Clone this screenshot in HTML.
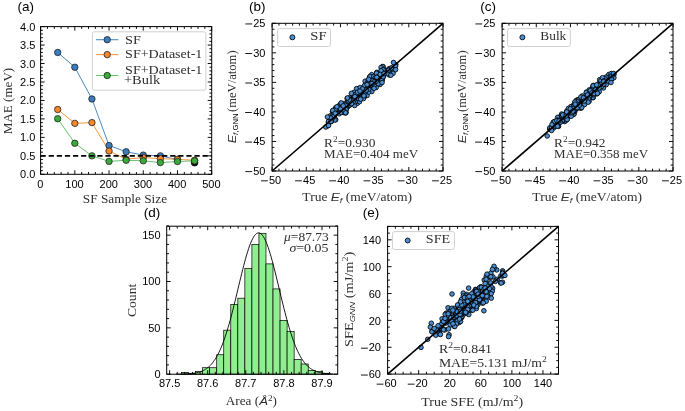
<!DOCTYPE html><html><head><meta charset="utf-8"><style>html,body{margin:0;padding:0;background:#fff;width:685px;height:411px;overflow:hidden}svg{display:block;will-change:transform}</style></head><body><svg width="685" height="411" viewBox="0 0 685 411">
<style>.s{font-family:"Liberation Sans",sans-serif;fill:#000}.r{font-family:"Liberation Serif",serif;fill:#303030}.i{font-family:"Liberation Sans",sans-serif;font-style:italic}</style>
<rect width="685" height="411" fill="#fff"/>
<polyline points="57.71,52.45 74.82,67.22 91.93,98.97 109.04,145.5 126.15,151.78 143.26,155.1 160.37,155.84 177.48,159.53" fill="none" stroke="#4a8cc4" stroke-width="1.0"/>
<polyline points="57.71,109.5 74.82,123.34 91.93,122.61 109.04,151.04 126.15,159.16 143.26,157.5 160.37,158.61 177.48,159.35 194.59,160.27" fill="none" stroke="#f5983f" stroke-width="1.0"/>
<polyline points="57.71,118.73 74.82,143.28 91.93,155.84 109.04,161.38 126.15,160.27 143.26,160.79 160.37,162.59 177.48,161.52 194.59,160.82" fill="none" stroke="#6cc06c" stroke-width="1.0"/>
<circle cx="194.59" cy="162.67" r="3.3" fill="#111" stroke="#000" stroke-width="0.8"/>
<circle cx="57.71" cy="52.45" r="3.2" fill="#3a7cbd" stroke="#222" stroke-width="0.8"/>
<circle cx="74.82" cy="67.22" r="3.2" fill="#3a7cbd" stroke="#222" stroke-width="0.8"/>
<circle cx="91.93" cy="98.97" r="3.2" fill="#3a7cbd" stroke="#222" stroke-width="0.8"/>
<circle cx="109.04" cy="145.5" r="3.2" fill="#3a7cbd" stroke="#222" stroke-width="0.8"/>
<circle cx="126.15" cy="151.78" r="3.2" fill="#3a7cbd" stroke="#222" stroke-width="0.8"/>
<circle cx="143.26" cy="155.1" r="3.2" fill="#3a7cbd" stroke="#222" stroke-width="0.8"/>
<circle cx="160.37" cy="155.84" r="3.2" fill="#3a7cbd" stroke="#222" stroke-width="0.8"/>
<circle cx="177.48" cy="159.53" r="3.2" fill="#3a7cbd" stroke="#222" stroke-width="0.8"/>
<circle cx="57.71" cy="109.5" r="3.2" fill="#f5862a" stroke="#222" stroke-width="0.8"/>
<circle cx="74.82" cy="123.34" r="3.2" fill="#f5862a" stroke="#222" stroke-width="0.8"/>
<circle cx="91.93" cy="122.61" r="3.2" fill="#f5862a" stroke="#222" stroke-width="0.8"/>
<circle cx="109.04" cy="151.04" r="3.2" fill="#f5862a" stroke="#222" stroke-width="0.8"/>
<circle cx="126.15" cy="159.16" r="3.2" fill="#f5862a" stroke="#222" stroke-width="0.8"/>
<circle cx="143.26" cy="157.5" r="3.2" fill="#f5862a" stroke="#222" stroke-width="0.8"/>
<circle cx="160.37" cy="158.61" r="3.2" fill="#f5862a" stroke="#222" stroke-width="0.8"/>
<circle cx="177.48" cy="159.35" r="3.2" fill="#f5862a" stroke="#222" stroke-width="0.8"/>
<circle cx="194.59" cy="160.27" r="3.2" fill="#f5862a" stroke="#222" stroke-width="0.8"/>
<circle cx="57.71" cy="118.73" r="3.2" fill="#3aab3a" stroke="#222" stroke-width="0.8"/>
<circle cx="74.82" cy="143.28" r="3.2" fill="#3aab3a" stroke="#222" stroke-width="0.8"/>
<circle cx="91.93" cy="155.84" r="3.2" fill="#3aab3a" stroke="#222" stroke-width="0.8"/>
<circle cx="109.04" cy="161.38" r="3.2" fill="#3aab3a" stroke="#222" stroke-width="0.8"/>
<circle cx="126.15" cy="160.27" r="3.2" fill="#3aab3a" stroke="#222" stroke-width="0.8"/>
<circle cx="143.26" cy="160.79" r="3.2" fill="#3aab3a" stroke="#222" stroke-width="0.8"/>
<circle cx="160.37" cy="162.59" r="3.2" fill="#3aab3a" stroke="#222" stroke-width="0.8"/>
<circle cx="177.48" cy="161.52" r="3.2" fill="#3aab3a" stroke="#222" stroke-width="0.8"/>
<circle cx="194.59" cy="160.82" r="3.2" fill="#3aab3a" stroke="#222" stroke-width="0.8"/>
<line x1="40.6" y1="155.84" x2="211.7" y2="155.84" stroke="#000" stroke-width="1.6" stroke-dasharray="5.2 2.9"/>
<rect x="92.4" y="31.8" width="113.5" height="58.4" rx="2" fill="#fff" fill-opacity="0.85" stroke="#d0d0d0" stroke-width="1"/>
<line x1="96.0" y1="39.7" x2="118.4" y2="39.7" stroke="#4a8cc4" stroke-width="1.1"/>
<circle cx="107.2" cy="39.7" r="3.2" fill="#3a7cbd" stroke="#222" stroke-width="0.8"/>
<line x1="96.0" y1="54.6" x2="118.4" y2="54.6" stroke="#f5983f" stroke-width="1.1"/>
<circle cx="107.2" cy="54.6" r="3.2" fill="#f5862a" stroke="#222" stroke-width="0.8"/>
<line x1="96.0" y1="75.5" x2="118.4" y2="75.5" stroke="#6cc06c" stroke-width="1.1"/>
<circle cx="107.2" cy="75.5" r="3.2" fill="#3aab3a" stroke="#222" stroke-width="0.8"/>
<text class="r" x="125.1" y="43.5" font-size="11.7" textLength="15.9" lengthAdjust="spacingAndGlyphs">SF</text>
<text class="r" x="125.1" y="58.3" font-size="11.7" textLength="77.3" lengthAdjust="spacingAndGlyphs">SF+Dataset-1</text>
<text class="r" x="125.1" y="73.6" font-size="11.7" textLength="77.3" lengthAdjust="spacingAndGlyphs">SF+Dataset-1</text>
<text class="r" x="123.9" y="83.9" font-size="11.7" textLength="36.3" lengthAdjust="spacingAndGlyphs">+Bulk</text>
<rect x="40.6" y="26.6" width="171.1" height="147.7" fill="none" stroke="#000" stroke-width="1.0"/>
<path d="M40.6 174.3v-4.0M40.6 26.6v4.0M74.82 174.3v-4.0M74.82 26.6v4.0M109.04 174.3v-4.0M109.04 26.6v4.0M143.26 174.3v-4.0M143.26 26.6v4.0M177.48 174.3v-4.0M177.48 26.6v4.0M211.7 174.3v-4.0M211.7 26.6v4.0M47.44 174.3v-2.3M47.44 26.6v2.3M54.29 174.3v-2.3M54.29 26.6v2.3M61.13 174.3v-2.3M61.13 26.6v2.3M67.98 174.3v-2.3M67.98 26.6v2.3M81.66 174.3v-2.3M81.66 26.6v2.3M88.51 174.3v-2.3M88.51 26.6v2.3M95.35 174.3v-2.3M95.35 26.6v2.3M102.2 174.3v-2.3M102.2 26.6v2.3M115.88 174.3v-2.3M115.88 26.6v2.3M122.73 174.3v-2.3M122.73 26.6v2.3M129.57 174.3v-2.3M129.57 26.6v2.3M136.42 174.3v-2.3M136.42 26.6v2.3M150.1 174.3v-2.3M150.1 26.6v2.3M156.95 174.3v-2.3M156.95 26.6v2.3M163.79 174.3v-2.3M163.79 26.6v2.3M170.64 174.3v-2.3M170.64 26.6v2.3M184.32 174.3v-2.3M184.32 26.6v2.3M191.17 174.3v-2.3M191.17 26.6v2.3M198.01 174.3v-2.3M198.01 26.6v2.3M204.86 174.3v-2.3M204.86 26.6v2.3M40.6 174.3h4.0M211.7 174.3h-4.0M40.6 155.84h4.0M211.7 155.84h-4.0M40.6 137.38h4.0M211.7 137.38h-4.0M40.6 118.91h4.0M211.7 118.91h-4.0M40.6 100.45h4.0M211.7 100.45h-4.0M40.6 81.99h4.0M211.7 81.99h-4.0M40.6 63.53h4.0M211.7 63.53h-4.0M40.6 45.06h4.0M211.7 45.06h-4.0M40.6 26.6h4.0M211.7 26.6h-4.0M40.6 170.61h2.3M211.7 170.61h-2.3M40.6 166.92h2.3M211.7 166.92h-2.3M40.6 163.22h2.3M211.7 163.22h-2.3M40.6 159.53h2.3M211.7 159.53h-2.3M40.6 152.15h2.3M211.7 152.15h-2.3M40.6 148.45h2.3M211.7 148.45h-2.3M40.6 144.76h2.3M211.7 144.76h-2.3M40.6 141.07h2.3M211.7 141.07h-2.3M40.6 133.68h2.3M211.7 133.68h-2.3M40.6 129.99h2.3M211.7 129.99h-2.3M40.6 126.3h2.3M211.7 126.3h-2.3M40.6 122.61h2.3M211.7 122.61h-2.3M40.6 115.22h2.3M211.7 115.22h-2.3M40.6 111.53h2.3M211.7 111.53h-2.3M40.6 107.84h2.3M211.7 107.84h-2.3M40.6 104.14h2.3M211.7 104.14h-2.3M40.6 96.76h2.3M211.7 96.76h-2.3M40.6 93.06h2.3M211.7 93.06h-2.3M40.6 89.37h2.3M211.7 89.37h-2.3M40.6 85.68h2.3M211.7 85.68h-2.3M40.6 78.3h2.3M211.7 78.3h-2.3M40.6 74.6h2.3M211.7 74.6h-2.3M40.6 70.91h2.3M211.7 70.91h-2.3M40.6 67.22h2.3M211.7 67.22h-2.3M40.6 59.83h2.3M211.7 59.83h-2.3M40.6 56.14h2.3M211.7 56.14h-2.3M40.6 52.45h2.3M211.7 52.45h-2.3M40.6 48.75h2.3M211.7 48.75h-2.3M40.6 41.37h2.3M211.7 41.37h-2.3M40.6 37.68h2.3M211.7 37.68h-2.3M40.6 33.98h2.3M211.7 33.98h-2.3M40.6 30.29h2.3M211.7 30.29h-2.3" stroke="#000" stroke-width="0.95" fill="none"/>
<text class="s" x="35.35" y="178.3" font-size="11.0" text-anchor="end">0.0</text>
<text class="s" x="35.35" y="159.84" font-size="11.0" text-anchor="end">0.5</text>
<text class="s" x="35.35" y="141.38" font-size="11.0" text-anchor="end">1.0</text>
<text class="s" x="35.35" y="122.91" font-size="11.0" text-anchor="end">1.5</text>
<text class="s" x="35.35" y="104.45" font-size="11.0" text-anchor="end">2.0</text>
<text class="s" x="35.35" y="85.99" font-size="11.0" text-anchor="end">2.5</text>
<text class="s" x="35.35" y="67.53" font-size="11.0" text-anchor="end">3.0</text>
<text class="s" x="35.35" y="49.06" font-size="11.0" text-anchor="end">3.5</text>
<text class="s" x="35.35" y="30.6" font-size="11.0" text-anchor="end">4.0</text>
<text class="s" x="40.3" y="187.8" font-size="11.0" text-anchor="middle">0</text>
<text class="s" x="74.52" y="187.8" font-size="11.0" text-anchor="middle">100</text>
<text class="s" x="108.74" y="187.8" font-size="11.0" text-anchor="middle">200</text>
<text class="s" x="142.96" y="187.8" font-size="11.0" text-anchor="middle">300</text>
<text class="s" x="177.18" y="187.8" font-size="11.0" text-anchor="middle">400</text>
<text class="s" x="211.4" y="187.8" font-size="11.0" text-anchor="middle">500</text>
<text class="s" x="17.6" y="11.1" font-size="13.5" textLength="16.5" lengthAdjust="spacingAndGlyphs">(a)</text>
<text class="r" x="11.9" y="101" font-size="11.7" text-anchor="middle" textLength="66.4" lengthAdjust="spacingAndGlyphs" transform="rotate(-90 11.9 101)">MAE (meV)</text>
<text class="r" x="125" y="203.4" font-size="11.7" text-anchor="middle" textLength="84.3" lengthAdjust="spacingAndGlyphs">SF Sample Size</text>
<g fill="#4a8fd3" stroke="#000" stroke-width="0.85"><circle cx="347.32" cy="107.29" r="2.3"/><circle cx="349.32" cy="97.81" r="2.3"/><circle cx="336.25" cy="112.41" r="2.3"/><circle cx="382.77" cy="76.76" r="2.3"/><circle cx="343.73" cy="112.49" r="2.3"/><circle cx="369.66" cy="76.92" r="2.3"/><circle cx="356.02" cy="92.76" r="2.3"/><circle cx="354.26" cy="98.38" r="2.3"/><circle cx="352.78" cy="96.78" r="2.3"/><circle cx="389.21" cy="74.26" r="2.3"/><circle cx="335.6" cy="107.91" r="2.3"/><circle cx="357.86" cy="96.71" r="2.3"/><circle cx="340.93" cy="111.57" r="2.3"/><circle cx="363.01" cy="91.13" r="2.3"/><circle cx="375.99" cy="84.71" r="2.3"/><circle cx="335.59" cy="109.61" r="2.3"/><circle cx="389.47" cy="75.05" r="2.3"/><circle cx="383.64" cy="70.29" r="2.3"/><circle cx="374.06" cy="84.55" r="2.3"/><circle cx="383.62" cy="72.17" r="2.3"/><circle cx="345.59" cy="109.3" r="2.3"/><circle cx="359.05" cy="97.78" r="2.3"/><circle cx="339.54" cy="105.19" r="2.3"/><circle cx="355.57" cy="96.24" r="2.3"/><circle cx="374.73" cy="79.6" r="2.3"/><circle cx="345.4" cy="105.08" r="2.3"/><circle cx="352.48" cy="96.34" r="2.3"/><circle cx="345.51" cy="112.91" r="2.3"/><circle cx="341.72" cy="110.03" r="2.3"/><circle cx="345.89" cy="112.14" r="2.3"/><circle cx="361.7" cy="89.19" r="2.3"/><circle cx="335.18" cy="110.6" r="2.3"/><circle cx="367.63" cy="87.86" r="2.3"/><circle cx="379.81" cy="72.88" r="2.3"/><circle cx="357.4" cy="103.35" r="2.3"/><circle cx="340.7" cy="111.04" r="2.3"/><circle cx="344.07" cy="111.94" r="2.3"/><circle cx="363.22" cy="89.64" r="2.3"/><circle cx="346.71" cy="103.59" r="2.3"/><circle cx="366.58" cy="87.91" r="2.3"/><circle cx="364.88" cy="91.12" r="2.3"/><circle cx="376.81" cy="82.57" r="2.3"/><circle cx="369.2" cy="85.04" r="2.3"/><circle cx="353.55" cy="95.68" r="2.3"/><circle cx="334.58" cy="111.1" r="2.3"/><circle cx="353.62" cy="98.38" r="2.3"/><circle cx="356.99" cy="98.44" r="2.3"/><circle cx="376.08" cy="81.18" r="2.3"/><circle cx="382.14" cy="74.49" r="2.3"/><circle cx="384.35" cy="70.45" r="2.3"/><circle cx="368.85" cy="86.71" r="2.3"/><circle cx="383.24" cy="76.81" r="2.3"/><circle cx="343.89" cy="107.19" r="2.3"/><circle cx="392.07" cy="69.19" r="2.3"/><circle cx="374.31" cy="79.72" r="2.3"/><circle cx="354.85" cy="101.89" r="2.3"/><circle cx="373.72" cy="78.82" r="2.3"/><circle cx="360.19" cy="94.02" r="2.3"/><circle cx="389.16" cy="72.33" r="2.3"/><circle cx="328.48" cy="122.49" r="2.3"/><circle cx="327.34" cy="125.93" r="2.3"/><circle cx="349.89" cy="105.05" r="2.3"/><circle cx="365.84" cy="91.54" r="2.3"/><circle cx="383.03" cy="66.76" r="2.3"/><circle cx="369.58" cy="88.27" r="2.3"/><circle cx="354.65" cy="105.55" r="2.3"/><circle cx="381.87" cy="70.5" r="2.3"/><circle cx="367.52" cy="82.39" r="2.3"/><circle cx="380.29" cy="74.47" r="2.3"/><circle cx="356.66" cy="100.85" r="2.3"/><circle cx="357.18" cy="98.03" r="2.3"/><circle cx="366.48" cy="85.84" r="2.3"/><circle cx="371.84" cy="82.81" r="2.3"/><circle cx="366.76" cy="92.92" r="2.3"/><circle cx="364.86" cy="92.67" r="2.3"/><circle cx="345.9" cy="112.59" r="2.3"/><circle cx="371.06" cy="88.84" r="2.3"/><circle cx="364.92" cy="91.08" r="2.3"/><circle cx="389.11" cy="73.31" r="2.3"/><circle cx="390.77" cy="68.32" r="2.3"/><circle cx="366.44" cy="83.45" r="2.3"/><circle cx="352.99" cy="100.08" r="2.3"/><circle cx="346.67" cy="107.05" r="2.3"/><circle cx="372.16" cy="75.54" r="2.3"/><circle cx="363.86" cy="87.7" r="2.3"/><circle cx="353.75" cy="96.92" r="2.3"/><circle cx="363.05" cy="92.14" r="2.3"/><circle cx="347.12" cy="103.5" r="2.3"/><circle cx="378.75" cy="78.83" r="2.3"/><circle cx="351.27" cy="101.29" r="2.3"/><circle cx="391.39" cy="73.03" r="2.3"/><circle cx="371.68" cy="74.68" r="2.3"/><circle cx="376.25" cy="87.44" r="2.3"/><circle cx="335.72" cy="119.68" r="2.3"/><circle cx="366.07" cy="88.71" r="2.3"/><circle cx="379.77" cy="79.31" r="2.3"/><circle cx="339.11" cy="113.8" r="2.3"/><circle cx="355.61" cy="93.46" r="2.3"/><circle cx="362.78" cy="91.86" r="2.3"/><circle cx="329.05" cy="122.25" r="2.3"/><circle cx="369.56" cy="86.81" r="2.3"/><circle cx="382.31" cy="79.8" r="2.3"/><circle cx="341.37" cy="109.86" r="2.3"/><circle cx="370.41" cy="84.83" r="2.3"/><circle cx="330.51" cy="115.69" r="2.3"/><circle cx="361.07" cy="90.68" r="2.3"/><circle cx="388.91" cy="68.83" r="2.3"/><circle cx="371.81" cy="91.5" r="2.3"/><circle cx="361.41" cy="93.32" r="2.3"/><circle cx="343.4" cy="103.67" r="2.3"/><circle cx="392.57" cy="69.78" r="2.3"/><circle cx="391.67" cy="68.39" r="2.3"/><circle cx="370.11" cy="76.42" r="2.3"/><circle cx="333.22" cy="118" r="2.3"/><circle cx="382.72" cy="66.47" r="2.3"/><circle cx="357.66" cy="97.91" r="2.3"/><circle cx="347.51" cy="100.18" r="2.3"/><circle cx="332.48" cy="111.49" r="2.3"/><circle cx="375.21" cy="82.22" r="2.3"/><circle cx="381.03" cy="67.46" r="2.3"/><circle cx="347.04" cy="102.8" r="2.3"/><circle cx="374.49" cy="81.4" r="2.3"/><circle cx="334.54" cy="117.49" r="2.3"/><circle cx="381.24" cy="78.9" r="2.3"/><circle cx="363.12" cy="90.63" r="2.3"/><circle cx="357.52" cy="91.25" r="2.3"/><circle cx="359.56" cy="101.64" r="2.3"/><circle cx="382.85" cy="71.15" r="2.3"/><circle cx="380.01" cy="84.52" r="2.3"/><circle cx="374.71" cy="77.73" r="2.3"/><circle cx="365.3" cy="94.67" r="2.3"/><circle cx="363.87" cy="95.37" r="2.3"/><circle cx="376.84" cy="72.32" r="2.3"/><circle cx="367.58" cy="88.98" r="2.3"/><circle cx="378.38" cy="80.73" r="2.3"/><circle cx="354.56" cy="101.14" r="2.3"/><circle cx="386.93" cy="71.03" r="2.3"/><circle cx="372.59" cy="83.78" r="2.3"/><circle cx="359.6" cy="91.7" r="2.3"/><circle cx="358.73" cy="88.66" r="2.3"/><circle cx="359.14" cy="98.69" r="2.3"/><circle cx="362.42" cy="88.67" r="2.3"/><circle cx="335.07" cy="120" r="2.3"/><circle cx="349.59" cy="105" r="2.3"/><circle cx="338.07" cy="108.75" r="2.3"/><circle cx="367.97" cy="86.09" r="2.3"/><circle cx="354.88" cy="96.26" r="2.3"/><circle cx="373.89" cy="76.39" r="2.3"/><circle cx="357.81" cy="97.43" r="2.3"/><circle cx="385.67" cy="70.37" r="2.3"/><circle cx="367.12" cy="95.51" r="2.3"/><circle cx="346.47" cy="108.77" r="2.3"/><circle cx="383.64" cy="69.42" r="2.3"/><circle cx="356.03" cy="96.46" r="2.3"/><circle cx="363.05" cy="89.77" r="2.3"/><circle cx="356.57" cy="88.62" r="2.3"/><circle cx="393.95" cy="70.22" r="2.3"/><circle cx="355.1" cy="101.84" r="2.3"/><circle cx="378.32" cy="81.69" r="2.3"/><circle cx="354.32" cy="95.98" r="2.3"/><circle cx="331.46" cy="121.48" r="2.3"/><circle cx="369.53" cy="84.28" r="2.3"/><circle cx="374.08" cy="85.63" r="2.3"/><circle cx="393.04" cy="73.33" r="2.3"/><circle cx="359.35" cy="94.47" r="2.3"/><circle cx="347.18" cy="98.56" r="2.3"/><circle cx="375.51" cy="77.62" r="2.3"/><circle cx="367.78" cy="90.17" r="2.3"/><circle cx="368.74" cy="92.09" r="2.3"/><circle cx="360.25" cy="87.63" r="2.3"/><circle cx="389.85" cy="69.45" r="2.3"/><circle cx="370.87" cy="85.14" r="2.3"/><circle cx="388.67" cy="72.88" r="2.3"/><circle cx="377.82" cy="81.95" r="2.3"/><circle cx="376.46" cy="73.26" r="2.3"/><circle cx="372.09" cy="80.58" r="2.3"/><circle cx="381.46" cy="80.12" r="2.3"/><circle cx="387.07" cy="73.69" r="2.3"/><circle cx="352.38" cy="101.88" r="2.3"/><circle cx="381.78" cy="80.52" r="2.3"/><circle cx="348.5" cy="103.8" r="2.3"/><circle cx="330.03" cy="120.63" r="2.3"/><circle cx="340.63" cy="108.84" r="2.3"/><circle cx="335.14" cy="109.55" r="2.3"/><circle cx="354.16" cy="92.25" r="2.3"/><circle cx="329.78" cy="119.25" r="2.3"/><circle cx="388.75" cy="70.05" r="2.3"/><circle cx="347.92" cy="101.09" r="2.3"/><circle cx="332.32" cy="118.11" r="2.3"/><circle cx="383.02" cy="69.65" r="2.3"/><circle cx="376.96" cy="78.45" r="2.3"/><circle cx="351.56" cy="100.5" r="2.3"/><circle cx="395.78" cy="64.56" r="2.3"/><circle cx="365.1" cy="81.2" r="2.3"/><circle cx="374.07" cy="88.36" r="2.3"/><circle cx="364.63" cy="91.14" r="2.3"/><circle cx="332.73" cy="110.51" r="2.3"/><circle cx="348.9" cy="101.15" r="2.3"/><circle cx="357.23" cy="97.37" r="2.3"/><circle cx="345.19" cy="105.3" r="2.3"/><circle cx="357.12" cy="98.36" r="2.3"/><circle cx="367.82" cy="82.31" r="2.3"/><circle cx="366.84" cy="88.7" r="2.3"/><circle cx="377.86" cy="76.64" r="2.3"/><circle cx="359.11" cy="93.11" r="2.3"/><circle cx="332.41" cy="116.07" r="2.3"/><circle cx="333.62" cy="116.65" r="2.3"/><circle cx="346.02" cy="109.44" r="2.3"/><circle cx="381.8" cy="72.06" r="2.3"/><circle cx="350.04" cy="100.18" r="2.3"/><circle cx="354.54" cy="98.65" r="2.3"/><circle cx="361.95" cy="91.15" r="2.3"/><circle cx="328.48" cy="121.34" r="2.3"/><circle cx="341.33" cy="112.42" r="2.3"/><circle cx="378.19" cy="83.75" r="2.3"/><circle cx="376.84" cy="77.33" r="2.3"/><circle cx="351.36" cy="93.34" r="2.3"/><circle cx="330.66" cy="118.03" r="2.3"/><circle cx="353.72" cy="100.27" r="2.3"/><circle cx="356.46" cy="95.28" r="2.3"/><circle cx="370.79" cy="83.27" r="2.3"/><circle cx="336.93" cy="106.72" r="2.3"/><circle cx="376.06" cy="81.47" r="2.3"/><circle cx="372.31" cy="80.86" r="2.3"/><circle cx="347.43" cy="97.93" r="2.3"/><circle cx="364.55" cy="85.47" r="2.3"/><circle cx="381.08" cy="70.69" r="2.3"/><circle cx="353.01" cy="102.05" r="2.3"/><circle cx="365.22" cy="91.85" r="2.3"/><circle cx="390.85" cy="75.24" r="2.3"/><circle cx="368.83" cy="89.19" r="2.3"/><circle cx="368.3" cy="79.96" r="2.3"/><circle cx="368.64" cy="79.31" r="2.3"/><circle cx="344.4" cy="111.58" r="2.3"/><circle cx="382.06" cy="82.57" r="2.3"/><circle cx="380.21" cy="74.39" r="2.3"/><circle cx="383.24" cy="76.75" r="2.3"/><circle cx="340.95" cy="103.78" r="2.3"/><circle cx="341.17" cy="102.92" r="2.3"/><circle cx="327.42" cy="116.95" r="2.3"/><circle cx="391.57" cy="67.87" r="2.3"/><circle cx="355.9" cy="94.21" r="2.3"/><circle cx="395.6" cy="66.04" r="2.3"/><circle cx="343.23" cy="105.89" r="2.3"/><circle cx="351.5" cy="103.68" r="2.3"/><circle cx="364.29" cy="96.76" r="2.3"/><circle cx="384.11" cy="73.67" r="2.3"/><circle cx="363.46" cy="98.57" r="2.3"/><circle cx="367.07" cy="84.61" r="2.3"/><circle cx="362.4" cy="88.85" r="2.3"/><circle cx="366.25" cy="90.19" r="2.3"/><circle cx="335.2" cy="113.28" r="2.3"/><circle cx="363.94" cy="95.82" r="2.3"/><circle cx="357.52" cy="92.17" r="2.3"/><circle cx="360.64" cy="99.14" r="2.3"/><circle cx="373.82" cy="82.02" r="2.3"/><circle cx="345.66" cy="112.79" r="2.3"/><circle cx="359.97" cy="91.07" r="2.3"/><circle cx="354.86" cy="96.66" r="2.3"/><circle cx="372.02" cy="83.56" r="2.3"/><circle cx="325.8" cy="127" r="2.3"/><circle cx="328.5" cy="125.5" r="2.3"/><circle cx="395.6" cy="69.7" r="2.3"/><circle cx="393.5" cy="62.5" r="2.3"/><circle cx="331" cy="121.5" r="2.3"/></g>
<line x1="272.1" y1="171" x2="443" y2="23.3" stroke="#000" stroke-width="1.6"/>
<rect x="277.6" y="28.6" width="52.9" height="17.9" rx="2" fill="#fff" fill-opacity="0.85" stroke="#d0d0d0" stroke-width="1"/>
<circle cx="292.4" cy="37.3" r="2.5" fill="#4a8fd3" stroke="#000" stroke-width="0.85"/>
<text class="r" x="310.3" y="39.9" font-size="11.7" textLength="16.3" lengthAdjust="spacingAndGlyphs">SF</text>
<rect x="272.1" y="23.3" width="170.9" height="147.7" fill="none" stroke="#000" stroke-width="1.0"/>
<path d="M272.1 171v-4.0M272.1 23.3v4.0M306.28 171v-4.0M306.28 23.3v4.0M340.46 171v-4.0M340.46 23.3v4.0M374.64 171v-4.0M374.64 23.3v4.0M408.82 171v-4.0M408.82 23.3v4.0M443 171v-4.0M443 23.3v4.0M278.94 171v-2.3M278.94 23.3v2.3M285.77 171v-2.3M285.77 23.3v2.3M292.61 171v-2.3M292.61 23.3v2.3M299.44 171v-2.3M299.44 23.3v2.3M313.12 171v-2.3M313.12 23.3v2.3M319.95 171v-2.3M319.95 23.3v2.3M326.79 171v-2.3M326.79 23.3v2.3M333.62 171v-2.3M333.62 23.3v2.3M347.3 171v-2.3M347.3 23.3v2.3M354.13 171v-2.3M354.13 23.3v2.3M360.97 171v-2.3M360.97 23.3v2.3M367.8 171v-2.3M367.8 23.3v2.3M381.48 171v-2.3M381.48 23.3v2.3M388.31 171v-2.3M388.31 23.3v2.3M395.15 171v-2.3M395.15 23.3v2.3M401.98 171v-2.3M401.98 23.3v2.3M415.66 171v-2.3M415.66 23.3v2.3M422.49 171v-2.3M422.49 23.3v2.3M429.33 171v-2.3M429.33 23.3v2.3M436.16 171v-2.3M436.16 23.3v2.3M272.1 171h4.0M443 171h-4.0M272.1 141.46h4.0M443 141.46h-4.0M272.1 111.92h4.0M443 111.92h-4.0M272.1 82.38h4.0M443 82.38h-4.0M272.1 52.84h4.0M443 52.84h-4.0M272.1 23.3h4.0M443 23.3h-4.0M272.1 165.09h2.3M443 165.09h-2.3M272.1 159.18h2.3M443 159.18h-2.3M272.1 153.28h2.3M443 153.28h-2.3M272.1 147.37h2.3M443 147.37h-2.3M272.1 135.55h2.3M443 135.55h-2.3M272.1 129.64h2.3M443 129.64h-2.3M272.1 123.74h2.3M443 123.74h-2.3M272.1 117.83h2.3M443 117.83h-2.3M272.1 106.01h2.3M443 106.01h-2.3M272.1 100.1h2.3M443 100.1h-2.3M272.1 94.2h2.3M443 94.2h-2.3M272.1 88.29h2.3M443 88.29h-2.3M272.1 76.47h2.3M443 76.47h-2.3M272.1 70.56h2.3M443 70.56h-2.3M272.1 64.66h2.3M443 64.66h-2.3M272.1 58.75h2.3M443 58.75h-2.3M272.1 46.93h2.3M443 46.93h-2.3M272.1 41.02h2.3M443 41.02h-2.3M272.1 35.12h2.3M443 35.12h-2.3M272.1 29.21h2.3M443 29.21h-2.3" stroke="#000" stroke-width="0.95" fill="none"/>
<text class="s" x="265.4" y="174.9" font-size="11.0" text-anchor="end">50</text>
<rect x="245.31" y="171.19" width="6.8" height="0.9" fill="#000"/>
<text class="s" x="281.15" y="184.1" font-size="11.0" text-anchor="end">50</text>
<rect x="261.05" y="180.39" width="6.8" height="0.9" fill="#000"/>
<text class="s" x="265.4" y="145.36" font-size="11.0" text-anchor="end">45</text>
<rect x="245.12" y="141.65" width="6.8" height="0.9" fill="#000"/>
<text class="s" x="315.33" y="184.1" font-size="11.0" text-anchor="end">45</text>
<rect x="295.05" y="180.39" width="6.8" height="0.9" fill="#000"/>
<text class="s" x="265.4" y="115.82" font-size="11.0" text-anchor="end">40</text>
<rect x="245.12" y="112.11" width="6.8" height="0.9" fill="#000"/>
<text class="s" x="349.51" y="184.1" font-size="11.0" text-anchor="end">40</text>
<rect x="329.23" y="180.39" width="6.8" height="0.9" fill="#000"/>
<text class="s" x="265.4" y="86.28" font-size="11.0" text-anchor="end">35</text>
<rect x="245.29" y="82.57" width="6.8" height="0.9" fill="#000"/>
<text class="s" x="383.69" y="184.1" font-size="11.0" text-anchor="end">35</text>
<rect x="363.57" y="180.39" width="6.8" height="0.9" fill="#000"/>
<text class="s" x="265.4" y="56.74" font-size="11.0" text-anchor="end">30</text>
<rect x="245.29" y="53.03" width="6.8" height="0.9" fill="#000"/>
<text class="s" x="417.87" y="184.1" font-size="11.0" text-anchor="end">30</text>
<rect x="397.75" y="180.39" width="6.8" height="0.9" fill="#000"/>
<text class="s" x="265.4" y="27.2" font-size="11.0" text-anchor="end">25</text>
<rect x="245.42" y="23.49" width="6.8" height="0.9" fill="#000"/>
<text class="s" x="452.05" y="184.1" font-size="11.0" text-anchor="end">25</text>
<rect x="432.06" y="180.39" width="6.8" height="0.9" fill="#000"/>
<text class="s" x="249.1" y="11.1" font-size="13.5" textLength="16.5" lengthAdjust="spacingAndGlyphs">(b)</text>
<text class="r" x="324" y="146.8" font-size="11.7" textLength="51.4" lengthAdjust="spacingAndGlyphs">R<tspan dy="-4.6" font-size="8.2">2</tspan><tspan dy="4.6">=0.930</tspan></text>
<text class="r" x="324" y="157.75" font-size="11.7" textLength="94.2" lengthAdjust="spacingAndGlyphs">MAE=0.404 meV</text>
<text class="r" x="357.15" y="200.7" font-size="11.7" text-anchor="middle" textLength="109.6" lengthAdjust="spacingAndGlyphs">True <tspan class="i">E</tspan><tspan class="i" font-size="8" dy="2">f</tspan><tspan dy="-2"> (meV/atom)</tspan></text>
<text class="r" x="236.3" y="96.85" font-size="11.7" text-anchor="middle" textLength="92.9" lengthAdjust="spacingAndGlyphs" transform="rotate(-90 236.3 96.85)"><tspan class="i">E</tspan><tspan class="i" font-size="7.2" dy="2">f</tspan><tspan class="s" font-size="7.2">,GNN</tspan><tspan dy="-2" dx="1.2">(meV/atom)</tspan></text>
<g fill="#4a8fd3" stroke="#000" stroke-width="0.85"><circle cx="571.83" cy="112.59" r="2.3"/><circle cx="579.76" cy="106.65" r="2.3"/><circle cx="562.48" cy="119.49" r="2.3"/><circle cx="592.06" cy="90.22" r="2.3"/><circle cx="553.6" cy="123.9" r="2.3"/><circle cx="557.73" cy="123.84" r="2.3"/><circle cx="561" cy="116.7" r="2.3"/><circle cx="593.13" cy="97.67" r="2.3"/><circle cx="581.91" cy="101.88" r="2.3"/><circle cx="556.41" cy="120.79" r="2.3"/><circle cx="592.86" cy="95.69" r="2.3"/><circle cx="567.88" cy="113.85" r="2.3"/><circle cx="580.58" cy="107.12" r="2.3"/><circle cx="606.85" cy="80.45" r="2.3"/><circle cx="564.55" cy="121.58" r="2.3"/><circle cx="581.2" cy="100.95" r="2.3"/><circle cx="561.68" cy="114.01" r="2.3"/><circle cx="577.56" cy="99.76" r="2.3"/><circle cx="586.64" cy="92.17" r="2.3"/><circle cx="559.25" cy="122.62" r="2.3"/><circle cx="573.55" cy="114.41" r="2.3"/><circle cx="575.8" cy="106.08" r="2.3"/><circle cx="566.97" cy="110.81" r="2.3"/><circle cx="554.87" cy="126.12" r="2.3"/><circle cx="549.73" cy="129.15" r="2.3"/><circle cx="577.62" cy="103.79" r="2.3"/><circle cx="575.08" cy="108.83" r="2.3"/><circle cx="583.48" cy="100.54" r="2.3"/><circle cx="589.15" cy="91.58" r="2.3"/><circle cx="610.91" cy="78.64" r="2.3"/><circle cx="592.04" cy="90.98" r="2.3"/><circle cx="562.43" cy="115.54" r="2.3"/><circle cx="581" cy="101.64" r="2.3"/><circle cx="592.93" cy="97.51" r="2.3"/><circle cx="574.1" cy="113.97" r="2.3"/><circle cx="597.96" cy="91.89" r="2.3"/><circle cx="613.29" cy="74.69" r="2.3"/><circle cx="573.62" cy="105.27" r="2.3"/><circle cx="594.45" cy="91.6" r="2.3"/><circle cx="582.06" cy="101.07" r="2.3"/><circle cx="562.76" cy="118.5" r="2.3"/><circle cx="582.93" cy="96.9" r="2.3"/><circle cx="603.01" cy="79.93" r="2.3"/><circle cx="572.62" cy="106.08" r="2.3"/><circle cx="572.74" cy="112.09" r="2.3"/><circle cx="579.36" cy="107.6" r="2.3"/><circle cx="590.54" cy="91.86" r="2.3"/><circle cx="609.12" cy="79.76" r="2.3"/><circle cx="567.04" cy="116.57" r="2.3"/><circle cx="592.18" cy="89.99" r="2.3"/><circle cx="585.75" cy="98.75" r="2.3"/><circle cx="571.78" cy="113.04" r="2.3"/><circle cx="578.09" cy="101.14" r="2.3"/><circle cx="580.13" cy="107.65" r="2.3"/><circle cx="588.17" cy="95.94" r="2.3"/><circle cx="582.02" cy="101.89" r="2.3"/><circle cx="566.09" cy="114.72" r="2.3"/><circle cx="592.53" cy="86.98" r="2.3"/><circle cx="597.18" cy="88.85" r="2.3"/><circle cx="566.63" cy="115" r="2.3"/><circle cx="599.53" cy="84.17" r="2.3"/><circle cx="572.61" cy="108.92" r="2.3"/><circle cx="582.46" cy="102.82" r="2.3"/><circle cx="556.83" cy="122.35" r="2.3"/><circle cx="578.99" cy="102.18" r="2.3"/><circle cx="596.29" cy="88.8" r="2.3"/><circle cx="576.83" cy="108.53" r="2.3"/><circle cx="579.3" cy="103.96" r="2.3"/><circle cx="599.14" cy="83.11" r="2.3"/><circle cx="608.46" cy="80.99" r="2.3"/><circle cx="572.11" cy="109.12" r="2.3"/><circle cx="550.54" cy="128.76" r="2.3"/><circle cx="611.08" cy="76.6" r="2.3"/><circle cx="607.79" cy="76.22" r="2.3"/><circle cx="570.84" cy="107.18" r="2.3"/><circle cx="588.72" cy="92.91" r="2.3"/><circle cx="589.4" cy="94.6" r="2.3"/><circle cx="593.46" cy="85.39" r="2.3"/><circle cx="585.49" cy="100.29" r="2.3"/><circle cx="611.95" cy="78.7" r="2.3"/><circle cx="603.9" cy="81.36" r="2.3"/><circle cx="589.37" cy="91.5" r="2.3"/><circle cx="576.22" cy="100.49" r="2.3"/><circle cx="606.82" cy="80.52" r="2.3"/><circle cx="606.55" cy="81.3" r="2.3"/><circle cx="589.49" cy="95.55" r="2.3"/><circle cx="556.07" cy="125.39" r="2.3"/><circle cx="590.53" cy="91.9" r="2.3"/><circle cx="574.31" cy="107.25" r="2.3"/><circle cx="590.7" cy="95.13" r="2.3"/><circle cx="565.18" cy="115.5" r="2.3"/><circle cx="568.16" cy="115.13" r="2.3"/><circle cx="573.85" cy="110.2" r="2.3"/><circle cx="568.67" cy="112.37" r="2.3"/><circle cx="561.15" cy="116.51" r="2.3"/><circle cx="568" cy="111.63" r="2.3"/><circle cx="574.92" cy="111.34" r="2.3"/><circle cx="569.63" cy="108.59" r="2.3"/><circle cx="565.63" cy="115.98" r="2.3"/><circle cx="560.56" cy="116.88" r="2.3"/><circle cx="558.53" cy="126.38" r="2.3"/><circle cx="590.51" cy="92.05" r="2.3"/><circle cx="573.88" cy="110.64" r="2.3"/><circle cx="590.32" cy="91.05" r="2.3"/><circle cx="598.58" cy="92.29" r="2.3"/><circle cx="608.78" cy="74.54" r="2.3"/><circle cx="597.54" cy="88.54" r="2.3"/><circle cx="559.14" cy="117.25" r="2.3"/><circle cx="605.4" cy="83.53" r="2.3"/><circle cx="578.48" cy="99.97" r="2.3"/><circle cx="570.04" cy="110.57" r="2.3"/><circle cx="557.66" cy="117.4" r="2.3"/><circle cx="594.02" cy="89.37" r="2.3"/><circle cx="576.97" cy="105.71" r="2.3"/><circle cx="603.44" cy="87.95" r="2.3"/><circle cx="599.62" cy="79.71" r="2.3"/><circle cx="591.95" cy="94.83" r="2.3"/><circle cx="583.78" cy="100.43" r="2.3"/><circle cx="549.79" cy="127.86" r="2.3"/><circle cx="575.46" cy="106.33" r="2.3"/><circle cx="602.36" cy="84.66" r="2.3"/><circle cx="571.56" cy="110.47" r="2.3"/><circle cx="596.32" cy="88.33" r="2.3"/><circle cx="596.34" cy="85.66" r="2.3"/><circle cx="594.23" cy="89.15" r="2.3"/><circle cx="581.08" cy="104.16" r="2.3"/><circle cx="575.98" cy="103.35" r="2.3"/><circle cx="594.42" cy="88.53" r="2.3"/><circle cx="590.32" cy="94.78" r="2.3"/><circle cx="605.59" cy="81.82" r="2.3"/><circle cx="574.97" cy="108.85" r="2.3"/><circle cx="571.15" cy="110.31" r="2.3"/><circle cx="553.38" cy="122.06" r="2.3"/><circle cx="601.64" cy="86.5" r="2.3"/><circle cx="570.7" cy="114.56" r="2.3"/><circle cx="553.4" cy="128.16" r="2.3"/><circle cx="583.75" cy="101.52" r="2.3"/><circle cx="597.64" cy="90.19" r="2.3"/><circle cx="586.31" cy="97.21" r="2.3"/><circle cx="591.94" cy="88.89" r="2.3"/><circle cx="599.06" cy="85.36" r="2.3"/><circle cx="589.03" cy="94.92" r="2.3"/><circle cx="598.03" cy="90.36" r="2.3"/><circle cx="572.98" cy="111.95" r="2.3"/><circle cx="561.73" cy="117.36" r="2.3"/><circle cx="589.72" cy="93.58" r="2.3"/><circle cx="574.08" cy="108.14" r="2.3"/><circle cx="567.94" cy="114.05" r="2.3"/><circle cx="606.29" cy="84.59" r="2.3"/><circle cx="610.38" cy="76.13" r="2.3"/><circle cx="587.66" cy="101.73" r="2.3"/><circle cx="571.01" cy="106.6" r="2.3"/><circle cx="592.32" cy="90.03" r="2.3"/><circle cx="599.25" cy="91.63" r="2.3"/><circle cx="594.87" cy="91.28" r="2.3"/><circle cx="573.56" cy="109.06" r="2.3"/><circle cx="588.9" cy="97.98" r="2.3"/><circle cx="594.69" cy="89.28" r="2.3"/><circle cx="602.14" cy="83.66" r="2.3"/><circle cx="597.68" cy="87.83" r="2.3"/><circle cx="556.04" cy="123.99" r="2.3"/><circle cx="565.44" cy="116.95" r="2.3"/><circle cx="554.13" cy="123.61" r="2.3"/><circle cx="584.97" cy="100.55" r="2.3"/><circle cx="593.17" cy="89.04" r="2.3"/><circle cx="603.73" cy="84.1" r="2.3"/><circle cx="573.76" cy="107.97" r="2.3"/><circle cx="555.68" cy="124.35" r="2.3"/><circle cx="571.62" cy="111.37" r="2.3"/><circle cx="577.74" cy="102.34" r="2.3"/><circle cx="614.03" cy="74.23" r="2.3"/><circle cx="600.13" cy="84.56" r="2.3"/><circle cx="557.08" cy="123.85" r="2.3"/><circle cx="595.61" cy="92.48" r="2.3"/><circle cx="597.17" cy="87.37" r="2.3"/><circle cx="557.65" cy="120.06" r="2.3"/><circle cx="578.61" cy="105.16" r="2.3"/><circle cx="588.27" cy="96.43" r="2.3"/><circle cx="574.05" cy="110.82" r="2.3"/><circle cx="551.3" cy="129.19" r="2.3"/><circle cx="565.64" cy="120.71" r="2.3"/><circle cx="586.28" cy="92.36" r="2.3"/><circle cx="568.84" cy="111.54" r="2.3"/><circle cx="587.59" cy="96.92" r="2.3"/><circle cx="593.16" cy="94.37" r="2.3"/><circle cx="562.51" cy="120.2" r="2.3"/><circle cx="574.13" cy="108.39" r="2.3"/><circle cx="583.66" cy="103.03" r="2.3"/><circle cx="562.37" cy="116.71" r="2.3"/><circle cx="582.33" cy="100.05" r="2.3"/><circle cx="551.55" cy="127.58" r="2.3"/><circle cx="605.92" cy="77.17" r="2.3"/><circle cx="589.15" cy="101.2" r="2.3"/><circle cx="604.89" cy="78.79" r="2.3"/><circle cx="600.85" cy="80.65" r="2.3"/><circle cx="589.59" cy="96.31" r="2.3"/><circle cx="602.46" cy="77.74" r="2.3"/><circle cx="585.21" cy="97.54" r="2.3"/><circle cx="566.43" cy="114.63" r="2.3"/><circle cx="558.48" cy="125.19" r="2.3"/><circle cx="571.14" cy="116.32" r="2.3"/><circle cx="579.31" cy="104.37" r="2.3"/><circle cx="552.01" cy="124.44" r="2.3"/><circle cx="579.19" cy="104.79" r="2.3"/><circle cx="574.3" cy="110.32" r="2.3"/><circle cx="577.49" cy="101.92" r="2.3"/><circle cx="593.08" cy="92.92" r="2.3"/><circle cx="567.4" cy="118.97" r="2.3"/><circle cx="589.33" cy="97.19" r="2.3"/><circle cx="592.29" cy="89.69" r="2.3"/><circle cx="573.63" cy="106.8" r="2.3"/><circle cx="574.76" cy="102.04" r="2.3"/><circle cx="592.85" cy="90.38" r="2.3"/><circle cx="582.26" cy="99.37" r="2.3"/><circle cx="584.5" cy="104.59" r="2.3"/><circle cx="582.29" cy="95.9" r="2.3"/><circle cx="589.28" cy="89.91" r="2.3"/><circle cx="578.02" cy="105.48" r="2.3"/><circle cx="588.39" cy="98.5" r="2.3"/><circle cx="582.88" cy="98.99" r="2.3"/><circle cx="595.64" cy="89.8" r="2.3"/><circle cx="562.3" cy="120.36" r="2.3"/><circle cx="562.25" cy="120.61" r="2.3"/><circle cx="570.44" cy="112.71" r="2.3"/><circle cx="558.57" cy="122.95" r="2.3"/><circle cx="580.83" cy="97.05" r="2.3"/><circle cx="560.46" cy="122.21" r="2.3"/><circle cx="577.15" cy="105.99" r="2.3"/><circle cx="566.14" cy="112.94" r="2.3"/><circle cx="557.52" cy="121.03" r="2.3"/><circle cx="566.64" cy="114.11" r="2.3"/><circle cx="567.53" cy="112.56" r="2.3"/><circle cx="573.27" cy="108.44" r="2.3"/><circle cx="604" cy="80.76" r="2.3"/><circle cx="611.12" cy="73.57" r="2.3"/><circle cx="596.96" cy="93.84" r="2.3"/><circle cx="573.09" cy="110.42" r="2.3"/><circle cx="613.93" cy="77.7" r="2.3"/><circle cx="586.9" cy="96.76" r="2.3"/><circle cx="580.95" cy="108.21" r="2.3"/><circle cx="577.94" cy="104.39" r="2.3"/><circle cx="581.72" cy="107.44" r="2.3"/><circle cx="555.55" cy="126.27" r="2.3"/><circle cx="608.15" cy="80.98" r="2.3"/><circle cx="603.62" cy="81.73" r="2.3"/><circle cx="565.12" cy="116.81" r="2.3"/><circle cx="557.44" cy="126.19" r="2.3"/><circle cx="568.43" cy="108.36" r="2.3"/><circle cx="587.43" cy="94.89" r="2.3"/><circle cx="554.71" cy="121.39" r="2.3"/><circle cx="570.27" cy="108.84" r="2.3"/><circle cx="577.19" cy="107.67" r="2.3"/><circle cx="572.3" cy="112.61" r="2.3"/><circle cx="600.16" cy="84.38" r="2.3"/><circle cx="594.04" cy="94.77" r="2.3"/><circle cx="556.82" cy="120.59" r="2.3"/><circle cx="566.01" cy="113.73" r="2.3"/><circle cx="584.96" cy="99.76" r="2.3"/><circle cx="579.53" cy="105.06" r="2.3"/><circle cx="563.67" cy="116.96" r="2.3"/><circle cx="590.34" cy="90.66" r="2.3"/><circle cx="599.04" cy="87.97" r="2.3"/><circle cx="567.12" cy="119.53" r="2.3"/><circle cx="598.36" cy="85.18" r="2.3"/><circle cx="592" cy="92.9" r="2.3"/><circle cx="562.64" cy="114.9" r="2.3"/><circle cx="559.07" cy="120.99" r="2.3"/><circle cx="575.21" cy="104.12" r="2.3"/><circle cx="566.1" cy="115.93" r="2.3"/><circle cx="588.2" cy="102.16" r="2.3"/><circle cx="572.83" cy="111.17" r="2.3"/><circle cx="583.42" cy="97.97" r="2.3"/><circle cx="594.2" cy="93.49" r="2.3"/><circle cx="593.09" cy="85.76" r="2.3"/><circle cx="611.44" cy="79.36" r="2.3"/><circle cx="584.26" cy="100.96" r="2.3"/><circle cx="566.62" cy="111.89" r="2.3"/><circle cx="611.99" cy="75.69" r="2.3"/><circle cx="596.67" cy="84.86" r="2.3"/><circle cx="597.45" cy="93.35" r="2.3"/><circle cx="547.2" cy="136" r="2.3"/><circle cx="551.5" cy="130.5" r="2.3"/><circle cx="613.5" cy="73.5" r="2.3"/><circle cx="611" cy="82.5" r="2.3"/></g>
<line x1="502.1" y1="171" x2="673" y2="23.3" stroke="#000" stroke-width="1.6"/>
<rect x="507.6" y="28.6" width="62.7" height="17.9" rx="2" fill="#fff" fill-opacity="0.85" stroke="#d0d0d0" stroke-width="1"/>
<circle cx="522.4" cy="37.3" r="2.5" fill="#4a8fd3" stroke="#000" stroke-width="0.85"/>
<text class="r" x="540.3" y="39.9" font-size="11.7" textLength="26" lengthAdjust="spacingAndGlyphs">Bulk</text>
<rect x="502.1" y="23.3" width="170.9" height="147.7" fill="none" stroke="#000" stroke-width="1.0"/>
<path d="M502.1 171v-4.0M502.1 23.3v4.0M536.28 171v-4.0M536.28 23.3v4.0M570.46 171v-4.0M570.46 23.3v4.0M604.64 171v-4.0M604.64 23.3v4.0M638.82 171v-4.0M638.82 23.3v4.0M673 171v-4.0M673 23.3v4.0M508.94 171v-2.3M508.94 23.3v2.3M515.77 171v-2.3M515.77 23.3v2.3M522.61 171v-2.3M522.61 23.3v2.3M529.44 171v-2.3M529.44 23.3v2.3M543.12 171v-2.3M543.12 23.3v2.3M549.95 171v-2.3M549.95 23.3v2.3M556.79 171v-2.3M556.79 23.3v2.3M563.62 171v-2.3M563.62 23.3v2.3M577.3 171v-2.3M577.3 23.3v2.3M584.13 171v-2.3M584.13 23.3v2.3M590.97 171v-2.3M590.97 23.3v2.3M597.8 171v-2.3M597.8 23.3v2.3M611.48 171v-2.3M611.48 23.3v2.3M618.31 171v-2.3M618.31 23.3v2.3M625.15 171v-2.3M625.15 23.3v2.3M631.98 171v-2.3M631.98 23.3v2.3M645.66 171v-2.3M645.66 23.3v2.3M652.49 171v-2.3M652.49 23.3v2.3M659.33 171v-2.3M659.33 23.3v2.3M666.16 171v-2.3M666.16 23.3v2.3M502.1 171h4.0M673 171h-4.0M502.1 141.46h4.0M673 141.46h-4.0M502.1 111.92h4.0M673 111.92h-4.0M502.1 82.38h4.0M673 82.38h-4.0M502.1 52.84h4.0M673 52.84h-4.0M502.1 23.3h4.0M673 23.3h-4.0M502.1 165.09h2.3M673 165.09h-2.3M502.1 159.18h2.3M673 159.18h-2.3M502.1 153.28h2.3M673 153.28h-2.3M502.1 147.37h2.3M673 147.37h-2.3M502.1 135.55h2.3M673 135.55h-2.3M502.1 129.64h2.3M673 129.64h-2.3M502.1 123.74h2.3M673 123.74h-2.3M502.1 117.83h2.3M673 117.83h-2.3M502.1 106.01h2.3M673 106.01h-2.3M502.1 100.1h2.3M673 100.1h-2.3M502.1 94.2h2.3M673 94.2h-2.3M502.1 88.29h2.3M673 88.29h-2.3M502.1 76.47h2.3M673 76.47h-2.3M502.1 70.56h2.3M673 70.56h-2.3M502.1 64.66h2.3M673 64.66h-2.3M502.1 58.75h2.3M673 58.75h-2.3M502.1 46.93h2.3M673 46.93h-2.3M502.1 41.02h2.3M673 41.02h-2.3M502.1 35.12h2.3M673 35.12h-2.3M502.1 29.21h2.3M673 29.21h-2.3" stroke="#000" stroke-width="0.95" fill="none"/>
<text class="s" x="495.4" y="174.9" font-size="11.0" text-anchor="end">50</text>
<rect x="475.31" y="171.19" width="6.8" height="0.9" fill="#000"/>
<text class="s" x="511.15" y="184.1" font-size="11.0" text-anchor="end">50</text>
<rect x="491.05" y="180.39" width="6.8" height="0.9" fill="#000"/>
<text class="s" x="495.4" y="145.36" font-size="11.0" text-anchor="end">45</text>
<rect x="475.12" y="141.65" width="6.8" height="0.9" fill="#000"/>
<text class="s" x="545.32" y="184.1" font-size="11.0" text-anchor="end">45</text>
<rect x="525.05" y="180.39" width="6.8" height="0.9" fill="#000"/>
<text class="s" x="495.4" y="115.82" font-size="11.0" text-anchor="end">40</text>
<rect x="475.12" y="112.11" width="6.8" height="0.9" fill="#000"/>
<text class="s" x="579.5" y="184.1" font-size="11.0" text-anchor="end">40</text>
<rect x="559.23" y="180.39" width="6.8" height="0.9" fill="#000"/>
<text class="s" x="495.4" y="86.28" font-size="11.0" text-anchor="end">35</text>
<rect x="475.29" y="82.57" width="6.8" height="0.9" fill="#000"/>
<text class="s" x="613.68" y="184.1" font-size="11.0" text-anchor="end">35</text>
<rect x="593.57" y="180.39" width="6.8" height="0.9" fill="#000"/>
<text class="s" x="495.4" y="56.74" font-size="11.0" text-anchor="end">30</text>
<rect x="475.29" y="53.03" width="6.8" height="0.9" fill="#000"/>
<text class="s" x="647.87" y="184.1" font-size="11.0" text-anchor="end">30</text>
<rect x="627.75" y="180.39" width="6.8" height="0.9" fill="#000"/>
<text class="s" x="495.4" y="27.2" font-size="11.0" text-anchor="end">25</text>
<rect x="475.42" y="23.49" width="6.8" height="0.9" fill="#000"/>
<text class="s" x="682.04" y="184.1" font-size="11.0" text-anchor="end">25</text>
<rect x="662.06" y="180.39" width="6.8" height="0.9" fill="#000"/>
<text class="s" x="480.3" y="11.1" font-size="13.5" textLength="15.74" lengthAdjust="spacingAndGlyphs">(c)</text>
<text class="r" x="554" y="146.8" font-size="11.7" textLength="51.4" lengthAdjust="spacingAndGlyphs">R<tspan dy="-4.6" font-size="8.2">2</tspan><tspan dy="4.6">=0.942</tspan></text>
<text class="r" x="554" y="157.75" font-size="11.7" textLength="94.2" lengthAdjust="spacingAndGlyphs">MAE=0.358 meV</text>
<text class="r" x="587.15" y="200.7" font-size="11.7" text-anchor="middle" textLength="109.6" lengthAdjust="spacingAndGlyphs">True <tspan class="i">E</tspan><tspan class="i" font-size="8" dy="2">f</tspan><tspan dy="-2"> (meV/atom)</tspan></text>
<text class="r" x="466.3" y="96.85" font-size="11.7" text-anchor="middle" textLength="92.9" lengthAdjust="spacingAndGlyphs" transform="rotate(-90 466.3 96.85)"><tspan class="i">E</tspan><tspan class="i" font-size="7.2" dy="2">f</tspan><tspan class="s" font-size="7.2">,GNN</tspan><tspan dy="-2" dx="1.2">(meV/atom)</tspan></text>
<g fill="#90ee90" stroke="#000" stroke-width="0.7"><rect x="181.5" y="372.35" width="7.04" height="1.85"/><rect x="188.54" y="373.27" width="7.04" height="0.93"/><rect x="195.58" y="371.42" width="7.04" height="2.78"/><rect x="202.62" y="367.71" width="7.04" height="6.49"/><rect x="209.66" y="367.71" width="7.04" height="6.49"/><rect x="216.7" y="354.73" width="7.04" height="19.47"/><rect x="223.74" y="330.17" width="7.04" height="44.03"/><rect x="230.78" y="304.4" width="7.04" height="69.8"/><rect x="237.82" y="298.19" width="7.04" height="76.01"/><rect x="244.86" y="268.52" width="7.04" height="105.68"/><rect x="251.9" y="244.42" width="7.04" height="129.78"/><rect x="258.94" y="233.3" width="7.04" height="140.9"/><rect x="265.98" y="263.89" width="7.04" height="110.31"/><rect x="273.02" y="288.92" width="7.04" height="85.28"/><rect x="280.06" y="320.43" width="7.04" height="53.77"/><rect x="287.1" y="331.56" width="7.04" height="42.64"/><rect x="294.14" y="359.37" width="7.04" height="14.83"/><rect x="301.18" y="364" width="7.04" height="10.2"/><rect x="308.22" y="370.49" width="7.04" height="3.71"/><rect x="315.26" y="371.42" width="7.04" height="2.78"/><rect x="322.3" y="373.27" width="7.04" height="0.93"/></g>
<polyline points="176,374.16 176.98,374.15 177.96,374.14 178.94,374.13 179.93,374.11 180.91,374.09 181.89,374.07 182.87,374.05 183.85,374.02 184.83,373.98 185.81,373.94 186.79,373.89 187.78,373.84 188.76,373.77 189.74,373.7 190.72,373.61 191.7,373.51 192.68,373.4 193.66,373.26 194.64,373.11 195.62,372.94 196.61,372.74 197.59,372.51 198.57,372.26 199.55,371.97 200.53,371.64 201.51,371.27 202.49,370.86 203.47,370.4 204.46,369.88 205.44,369.3 206.42,368.66 207.4,367.95 208.38,367.17 209.36,366.3 210.34,365.35 211.32,364.3 212.31,363.16 213.29,361.91 214.27,360.56 215.25,359.09 216.23,357.5 217.21,355.78 218.19,353.94 219.18,351.96 220.16,349.84 221.14,347.58 222.12,345.18 223.1,342.64 224.08,339.95 225.06,337.12 226.04,334.14 227.03,331.03 228.01,327.78 228.99,324.4 229.97,320.89 230.95,317.27 231.93,313.55 232.91,309.72 233.89,305.82 234.88,301.84 235.86,297.8 236.84,293.73 237.82,289.63 238.8,285.53 239.78,281.44 240.76,277.38 241.74,273.38 242.72,269.46 243.71,265.62 244.69,261.91 245.67,258.34 246.65,254.92 247.63,251.69 248.61,248.65 249.59,245.84 250.57,243.26 251.56,240.94 252.54,238.88 253.52,237.11 254.5,235.63 255.48,234.46 256.46,233.6 257.44,233.06 258.43,232.84 259.41,232.94 260.39,233.37 261.37,234.12 262.35,235.18 263.33,236.55 264.31,238.22 265.29,240.17 266.27,242.4 267.26,244.89 268.24,247.62 269.22,250.58 270.2,253.75 271.18,257.1 272.16,260.62 273.14,264.29 274.12,268.08 275.11,271.97 276.09,275.95 277.07,279.99 278.05,284.07 279.03,288.17 280.01,292.27 280.99,296.36 281.98,300.41 282.96,304.41 283.94,308.34 284.92,312.19 285.9,315.96 286.88,319.62 287.86,323.16 288.84,326.59 289.82,329.88 290.81,333.05 291.79,336.07 292.77,338.96 293.75,341.7 294.73,344.29 295.71,346.74 296.69,349.05 297.68,351.22 298.66,353.25 299.64,355.14 300.62,356.9 301.6,358.53 302.58,360.05 303.56,361.44 304.54,362.73 305.52,363.91 306.51,364.98 307.49,365.97 308.47,366.87 309.45,367.68 310.43,368.42 311.41,369.08 312.39,369.68 313.38,370.22 314.36,370.7 315.34,371.13 316.32,371.51 317.3,371.86 318.28,372.16 319.26,372.43 320.24,372.66 321.23,372.87 322.21,373.05 323.19,373.21 324.17,373.35 325.15,373.47 326.13,373.58 327.11,373.67 328.09,373.75 329.07,373.82 330.06,373.87 331.04,373.93 332.02,373.97 333,374" fill="none" stroke="#000" stroke-width="0.9"/>
<rect x="166.7" y="226.2" width="171" height="148" fill="none" stroke="#000" stroke-width="1.0"/>
<path d="M169.6 374.2v-4.0M169.6 226.2v4.0M207.7 374.2v-4.0M207.7 226.2v4.0M245.8 374.2v-4.0M245.8 226.2v4.0M283.9 374.2v-4.0M283.9 226.2v4.0M322 374.2v-4.0M322 226.2v4.0M177.22 374.2v-2.3M177.22 226.2v2.3M184.84 374.2v-2.3M184.84 226.2v2.3M192.46 374.2v-2.3M192.46 226.2v2.3M200.08 374.2v-2.3M200.08 226.2v2.3M215.32 374.2v-2.3M215.32 226.2v2.3M222.94 374.2v-2.3M222.94 226.2v2.3M230.56 374.2v-2.3M230.56 226.2v2.3M238.18 374.2v-2.3M238.18 226.2v2.3M253.42 374.2v-2.3M253.42 226.2v2.3M261.04 374.2v-2.3M261.04 226.2v2.3M268.66 374.2v-2.3M268.66 226.2v2.3M276.28 374.2v-2.3M276.28 226.2v2.3M291.52 374.2v-2.3M291.52 226.2v2.3M299.14 374.2v-2.3M299.14 226.2v2.3M306.76 374.2v-2.3M306.76 226.2v2.3M314.38 374.2v-2.3M314.38 226.2v2.3M329.62 374.2v-2.3M329.62 226.2v2.3M166.7 374.2h4.0M337.7 374.2h-4.0M166.7 327.85h4.0M337.7 327.85h-4.0M166.7 281.5h4.0M337.7 281.5h-4.0M166.7 235.15h4.0M337.7 235.15h-4.0M166.7 364.93h2.3M337.7 364.93h-2.3M166.7 355.66h2.3M337.7 355.66h-2.3M166.7 346.39h2.3M337.7 346.39h-2.3M166.7 337.12h2.3M337.7 337.12h-2.3M166.7 318.58h2.3M337.7 318.58h-2.3M166.7 309.31h2.3M337.7 309.31h-2.3M166.7 300.04h2.3M337.7 300.04h-2.3M166.7 290.77h2.3M337.7 290.77h-2.3M166.7 272.23h2.3M337.7 272.23h-2.3M166.7 262.96h2.3M337.7 262.96h-2.3M166.7 253.69h2.3M337.7 253.69h-2.3M166.7 244.42h2.3M337.7 244.42h-2.3M166.7 225.88h2.3M337.7 225.88h-2.3" stroke="#000" stroke-width="0.95" fill="none"/>
<text class="s" x="160.5" y="378" font-size="11.0" text-anchor="end">0</text>
<text class="s" x="160.5" y="331.65" font-size="11.0" text-anchor="end">50</text>
<text class="s" x="160.5" y="285.3" font-size="11.0" text-anchor="end">100</text>
<text class="s" x="160.5" y="238.95" font-size="11.0" text-anchor="end">150</text>
<text class="s" x="169.6" y="387.3" font-size="11.0" text-anchor="middle">87.5</text>
<text class="s" x="207.7" y="387.3" font-size="11.0" text-anchor="middle">87.6</text>
<text class="s" x="245.8" y="387.3" font-size="11.0" text-anchor="middle">87.7</text>
<text class="s" x="283.9" y="387.3" font-size="11.0" text-anchor="middle">87.8</text>
<text class="s" x="322" y="387.3" font-size="11.0" text-anchor="middle">87.9</text>
<text class="s" x="143.8" y="217.3" font-size="13.5" textLength="16.5" lengthAdjust="spacingAndGlyphs">(d)</text>
<text class="r" x="328.7" y="240.9" font-size="11.7" text-anchor="end" textLength="44.6" lengthAdjust="spacingAndGlyphs"><tspan font-style="italic">μ</tspan>=87.73</text>
<text class="r" x="328.5" y="251.8" font-size="11.7" text-anchor="end" textLength="39.1" lengthAdjust="spacingAndGlyphs"><tspan font-style="italic">σ</tspan>=0.05</text>
<text class="r" x="135.8" y="300.4" font-size="11.7" text-anchor="middle" textLength="33.3" lengthAdjust="spacingAndGlyphs" transform="rotate(-90 135.8 300.4)">Count</text>
<text class="r" x="251.4" y="405.4" font-size="11.7" text-anchor="middle" textLength="51.1" lengthAdjust="spacingAndGlyphs">Area (<tspan class="i">Å</tspan><tspan dy="-4.6" font-size="8.2">2</tspan><tspan dy="4.6">)</tspan></text>
<g fill="#4a8fd3" stroke="#000" stroke-width="0.85"><circle cx="475.24" cy="295.77" r="2.3"/><circle cx="463.25" cy="293.08" r="2.3"/><circle cx="502.57" cy="270.79" r="2.3"/><circle cx="464.47" cy="304.61" r="2.3"/><circle cx="470.09" cy="305.68" r="2.3"/><circle cx="492.98" cy="276.92" r="2.3"/><circle cx="454.26" cy="308.27" r="2.3"/><circle cx="459.2" cy="322.51" r="2.3"/><circle cx="471.3" cy="310.1" r="2.3"/><circle cx="463.26" cy="296.01" r="2.3"/><circle cx="449.86" cy="317.72" r="2.3"/><circle cx="465.21" cy="306.25" r="2.3"/><circle cx="462.81" cy="305.69" r="2.3"/><circle cx="477.76" cy="289.55" r="2.3"/><circle cx="442.52" cy="321.79" r="2.3"/><circle cx="457.51" cy="315.03" r="2.3"/><circle cx="486.28" cy="276.35" r="2.3"/><circle cx="497.25" cy="279.26" r="2.3"/><circle cx="444.91" cy="329.85" r="2.3"/><circle cx="478.41" cy="298.99" r="2.3"/><circle cx="453.15" cy="318.24" r="2.3"/><circle cx="455.08" cy="318.07" r="2.3"/><circle cx="454.84" cy="317.12" r="2.3"/><circle cx="461.82" cy="308.05" r="2.3"/><circle cx="483.87" cy="310.74" r="2.3"/><circle cx="479.46" cy="299.42" r="2.3"/><circle cx="469.31" cy="297.74" r="2.3"/><circle cx="462.74" cy="305.75" r="2.3"/><circle cx="468.44" cy="308.35" r="2.3"/><circle cx="466.74" cy="309.47" r="2.3"/><circle cx="480.71" cy="286.74" r="2.3"/><circle cx="458.58" cy="314.26" r="2.3"/><circle cx="468.29" cy="307.57" r="2.3"/><circle cx="466.82" cy="294.42" r="2.3"/><circle cx="467.58" cy="307.22" r="2.3"/><circle cx="472.26" cy="296.8" r="2.3"/><circle cx="471.46" cy="301.9" r="2.3"/><circle cx="489.13" cy="286.05" r="2.3"/><circle cx="467.04" cy="311.17" r="2.3"/><circle cx="492.65" cy="288.31" r="2.3"/><circle cx="463.64" cy="300.78" r="2.3"/><circle cx="460.97" cy="317.57" r="2.3"/><circle cx="469.95" cy="301.25" r="2.3"/><circle cx="473.91" cy="306.72" r="2.3"/><circle cx="472.58" cy="302.11" r="2.3"/><circle cx="488.46" cy="287.16" r="2.3"/><circle cx="486.09" cy="298.83" r="2.3"/><circle cx="476.07" cy="290.78" r="2.3"/><circle cx="463.16" cy="309.9" r="2.3"/><circle cx="466.83" cy="298.29" r="2.3"/><circle cx="490.35" cy="290.95" r="2.3"/><circle cx="471.83" cy="295.8" r="2.3"/><circle cx="448.02" cy="307.77" r="2.3"/><circle cx="457.68" cy="312.23" r="2.3"/><circle cx="459.42" cy="315.94" r="2.3"/><circle cx="486.29" cy="285.91" r="2.3"/><circle cx="466.72" cy="304.87" r="2.3"/><circle cx="502.57" cy="276.01" r="2.3"/><circle cx="478.59" cy="296.19" r="2.3"/><circle cx="470.33" cy="306.1" r="2.3"/><circle cx="461.62" cy="307.57" r="2.3"/><circle cx="483.49" cy="293.56" r="2.3"/><circle cx="464.65" cy="312.69" r="2.3"/><circle cx="455.59" cy="310.42" r="2.3"/><circle cx="477.22" cy="297.65" r="2.3"/><circle cx="468.59" cy="288.12" r="2.3"/><circle cx="486.86" cy="289.82" r="2.3"/><circle cx="467.25" cy="309.6" r="2.3"/><circle cx="480.65" cy="291.44" r="2.3"/><circle cx="439.22" cy="333.7" r="2.3"/><circle cx="492.3" cy="291.25" r="2.3"/><circle cx="496.69" cy="269.92" r="2.3"/><circle cx="461.75" cy="317.51" r="2.3"/><circle cx="450.29" cy="310.77" r="2.3"/><circle cx="446.68" cy="322.18" r="2.3"/><circle cx="481.95" cy="298.98" r="2.3"/><circle cx="465.25" cy="296.92" r="2.3"/><circle cx="459.09" cy="313.54" r="2.3"/><circle cx="464.61" cy="313.63" r="2.3"/><circle cx="500.84" cy="275.84" r="2.3"/><circle cx="473.78" cy="291.85" r="2.3"/><circle cx="479.97" cy="290.13" r="2.3"/><circle cx="480.46" cy="288.85" r="2.3"/><circle cx="484.21" cy="280" r="2.3"/><circle cx="484.88" cy="288.73" r="2.3"/><circle cx="457.35" cy="311.55" r="2.3"/><circle cx="465.05" cy="308.53" r="2.3"/><circle cx="456.57" cy="323.28" r="2.3"/><circle cx="457.34" cy="314.7" r="2.3"/><circle cx="486.12" cy="279.18" r="2.3"/><circle cx="460.59" cy="321.47" r="2.3"/><circle cx="467.16" cy="297.22" r="2.3"/><circle cx="457.63" cy="312" r="2.3"/><circle cx="459.17" cy="317.75" r="2.3"/><circle cx="480.64" cy="293.3" r="2.3"/><circle cx="461.47" cy="299.53" r="2.3"/><circle cx="460.9" cy="314.21" r="2.3"/><circle cx="476.06" cy="292.87" r="2.3"/><circle cx="476.16" cy="290.72" r="2.3"/><circle cx="480.7" cy="299.06" r="2.3"/><circle cx="471.04" cy="298.16" r="2.3"/><circle cx="441.14" cy="324.59" r="2.3"/><circle cx="478.18" cy="298.68" r="2.3"/><circle cx="476.13" cy="293.45" r="2.3"/><circle cx="484.21" cy="292.79" r="2.3"/><circle cx="455.24" cy="319.13" r="2.3"/><circle cx="502.57" cy="282.2" r="2.3"/><circle cx="449.24" cy="318.5" r="2.3"/><circle cx="479.68" cy="297.11" r="2.3"/><circle cx="469.1" cy="307.04" r="2.3"/><circle cx="460.82" cy="317.76" r="2.3"/><circle cx="481.07" cy="301.57" r="2.3"/><circle cx="464.02" cy="312.83" r="2.3"/><circle cx="432.1" cy="331.23" r="2.3"/><circle cx="450.25" cy="324.87" r="2.3"/><circle cx="475.5" cy="289.4" r="2.3"/><circle cx="502.57" cy="272.27" r="2.3"/><circle cx="445.38" cy="323.21" r="2.3"/><circle cx="468.13" cy="311.78" r="2.3"/><circle cx="490.93" cy="272.99" r="2.3"/><circle cx="477.82" cy="304.83" r="2.3"/><circle cx="462.55" cy="306.09" r="2.3"/><circle cx="446.3" cy="313.13" r="2.3"/><circle cx="440.72" cy="329.4" r="2.3"/><circle cx="456.77" cy="318.45" r="2.3"/><circle cx="462.67" cy="309.34" r="2.3"/><circle cx="433.45" cy="328.95" r="2.3"/><circle cx="442.08" cy="318.81" r="2.3"/><circle cx="473.11" cy="296.55" r="2.3"/><circle cx="462.03" cy="316.23" r="2.3"/><circle cx="456.66" cy="318.49" r="2.3"/><circle cx="462.06" cy="308.52" r="2.3"/><circle cx="455.76" cy="322.9" r="2.3"/><circle cx="482.8" cy="293.28" r="2.3"/><circle cx="493.87" cy="268.72" r="2.3"/><circle cx="500.61" cy="282.82" r="2.3"/><circle cx="479.42" cy="287.74" r="2.3"/><circle cx="480" cy="299.88" r="2.3"/><circle cx="491.12" cy="286.69" r="2.3"/><circle cx="495.4" cy="281.36" r="2.3"/><circle cx="491.15" cy="293.7" r="2.3"/><circle cx="487.22" cy="288.64" r="2.3"/><circle cx="458.53" cy="304.96" r="2.3"/><circle cx="443.54" cy="321.42" r="2.3"/><circle cx="482.02" cy="288.28" r="2.3"/><circle cx="466.93" cy="310.4" r="2.3"/><circle cx="467.52" cy="305.9" r="2.3"/><circle cx="454.57" cy="315" r="2.3"/><circle cx="448.18" cy="317.65" r="2.3"/><circle cx="490.17" cy="277.34" r="2.3"/><circle cx="475.62" cy="304.07" r="2.3"/><circle cx="451.84" cy="308.31" r="2.3"/><circle cx="474.45" cy="300.77" r="2.3"/><circle cx="473.14" cy="301.7" r="2.3"/><circle cx="476.5" cy="304.57" r="2.3"/><circle cx="502.57" cy="275.15" r="2.3"/><circle cx="467.85" cy="306.12" r="2.3"/><circle cx="448.51" cy="328.92" r="2.3"/><circle cx="468.96" cy="305.55" r="2.3"/><circle cx="458.35" cy="312.22" r="2.3"/><circle cx="476.91" cy="299.4" r="2.3"/><circle cx="471.66" cy="296.74" r="2.3"/><circle cx="473.77" cy="305.82" r="2.3"/><circle cx="459.58" cy="306.52" r="2.3"/><circle cx="474.82" cy="299.85" r="2.3"/><circle cx="460.46" cy="308.88" r="2.3"/><circle cx="476.43" cy="308.48" r="2.3"/><circle cx="463.71" cy="307.54" r="2.3"/><circle cx="451.01" cy="319.67" r="2.3"/><circle cx="476.13" cy="291.93" r="2.3"/><circle cx="457.42" cy="320.89" r="2.3"/><circle cx="490.82" cy="276.65" r="2.3"/><circle cx="475.27" cy="304.87" r="2.3"/><circle cx="475.66" cy="290.04" r="2.3"/><circle cx="469.96" cy="299.42" r="2.3"/><circle cx="467.47" cy="309.63" r="2.3"/><circle cx="431.31" cy="323.21" r="2.3"/><circle cx="487.38" cy="295.09" r="2.3"/><circle cx="455.74" cy="316.25" r="2.3"/><circle cx="483.25" cy="290.19" r="2.3"/><circle cx="458.47" cy="309.7" r="2.3"/><circle cx="466.17" cy="304.83" r="2.3"/><circle cx="464.91" cy="302.46" r="2.3"/><circle cx="452.25" cy="315.45" r="2.3"/><circle cx="465.72" cy="306.39" r="2.3"/><circle cx="475.79" cy="303.5" r="2.3"/><circle cx="461.95" cy="311.92" r="2.3"/><circle cx="448.75" cy="315.8" r="2.3"/><circle cx="459.48" cy="319.02" r="2.3"/><circle cx="472.27" cy="300.25" r="2.3"/><circle cx="486.21" cy="301.25" r="2.3"/><circle cx="481.38" cy="297.26" r="2.3"/><circle cx="472.85" cy="310.23" r="2.3"/><circle cx="452.92" cy="310.13" r="2.3"/><circle cx="482.48" cy="303.11" r="2.3"/><circle cx="468.77" cy="305.4" r="2.3"/><circle cx="464.66" cy="303.1" r="2.3"/><circle cx="482.53" cy="288.38" r="2.3"/><circle cx="477.99" cy="291.31" r="2.3"/><circle cx="476.15" cy="291.15" r="2.3"/><circle cx="450.5" cy="316.88" r="2.3"/><circle cx="458.9" cy="307.43" r="2.3"/><circle cx="441.92" cy="327.48" r="2.3"/><circle cx="471.41" cy="301.82" r="2.3"/><circle cx="468.83" cy="314.54" r="2.3"/><circle cx="482.88" cy="290.74" r="2.3"/><circle cx="471.68" cy="293.77" r="2.3"/><circle cx="462.67" cy="313.74" r="2.3"/><circle cx="501.19" cy="282.99" r="2.3"/><circle cx="452.39" cy="317.55" r="2.3"/><circle cx="447.63" cy="315.37" r="2.3"/><circle cx="458.9" cy="305.19" r="2.3"/><circle cx="476.54" cy="306.3" r="2.3"/><circle cx="462.96" cy="306.25" r="2.3"/><circle cx="461.54" cy="314.16" r="2.3"/><circle cx="450.97" cy="317.66" r="2.3"/><circle cx="491.27" cy="298.14" r="2.3"/><circle cx="458.7" cy="307.08" r="2.3"/><circle cx="451.6" cy="321.18" r="2.3"/><circle cx="466.49" cy="304.68" r="2.3"/><circle cx="455.84" cy="316.21" r="2.3"/><circle cx="464.78" cy="313.65" r="2.3"/><circle cx="489.13" cy="283.18" r="2.3"/><circle cx="461.45" cy="313.18" r="2.3"/><circle cx="467.62" cy="309.11" r="2.3"/><circle cx="462.66" cy="305.24" r="2.3"/><circle cx="465.41" cy="307.36" r="2.3"/><circle cx="481.12" cy="297.5" r="2.3"/><circle cx="476.65" cy="291.46" r="2.3"/><circle cx="463.08" cy="312.43" r="2.3"/><circle cx="453.93" cy="316.97" r="2.3"/><circle cx="466.3" cy="301.64" r="2.3"/><circle cx="481.32" cy="287.4" r="2.3"/><circle cx="468.12" cy="297.26" r="2.3"/><circle cx="466.41" cy="295.98" r="2.3"/><circle cx="440.3" cy="328.28" r="2.3"/><circle cx="483.83" cy="295.75" r="2.3"/><circle cx="445.22" cy="314.34" r="2.3"/><circle cx="448.47" cy="313.08" r="2.3"/><circle cx="462.55" cy="311.13" r="2.3"/><circle cx="468.93" cy="299.58" r="2.3"/><circle cx="469.09" cy="305.95" r="2.3"/><circle cx="456.52" cy="323.94" r="2.3"/><circle cx="463.52" cy="302.21" r="2.3"/><circle cx="458.96" cy="310.34" r="2.3"/><circle cx="440.28" cy="327.84" r="2.3"/><circle cx="464.42" cy="297.5" r="2.3"/><circle cx="457.61" cy="304.94" r="2.3"/><circle cx="474.9" cy="302.53" r="2.3"/><circle cx="466.13" cy="312.93" r="2.3"/><circle cx="483.36" cy="302.79" r="2.3"/><circle cx="479.21" cy="294.89" r="2.3"/><circle cx="482.36" cy="294.53" r="2.3"/><circle cx="487.16" cy="285.86" r="2.3"/><circle cx="479.16" cy="294.89" r="2.3"/><circle cx="465.8" cy="310.48" r="2.3"/><circle cx="489.41" cy="288.55" r="2.3"/><circle cx="453.96" cy="326.16" r="2.3"/><circle cx="467.84" cy="297.33" r="2.3"/><circle cx="481.74" cy="295.95" r="2.3"/><circle cx="463.92" cy="304.44" r="2.3"/><circle cx="479.5" cy="298.65" r="2.3"/><circle cx="455.91" cy="314.64" r="2.3"/><circle cx="459.99" cy="307.73" r="2.3"/><circle cx="476.87" cy="298.6" r="2.3"/><circle cx="479.45" cy="299.65" r="2.3"/><circle cx="486.99" cy="274.15" r="2.3"/><circle cx="467.3" cy="306.42" r="2.3"/><circle cx="473.02" cy="296.84" r="2.3"/><circle cx="478.12" cy="296.36" r="2.3"/><circle cx="475.65" cy="302.67" r="2.3"/><circle cx="448.15" cy="313.83" r="2.3"/><circle cx="459.53" cy="309.57" r="2.3"/><circle cx="490.81" cy="282.84" r="2.3"/><circle cx="449.06" cy="334.73" r="2.3"/><circle cx="478.16" cy="294.1" r="2.3"/><circle cx="461.78" cy="304.92" r="2.3"/><circle cx="483.98" cy="289.1" r="2.3"/><circle cx="456.3" cy="315.62" r="2.3"/><circle cx="469.15" cy="296.41" r="2.3"/><circle cx="436.91" cy="330" r="2.3"/><circle cx="467.74" cy="301.33" r="2.3"/><circle cx="485.08" cy="283.59" r="2.3"/><circle cx="445.07" cy="318.38" r="2.3"/><circle cx="486.81" cy="296.3" r="2.3"/><circle cx="457.28" cy="311.85" r="2.3"/><circle cx="467.59" cy="309.57" r="2.3"/><circle cx="485.15" cy="288.07" r="2.3"/><circle cx="454.78" cy="326.54" r="2.3"/><circle cx="460.03" cy="314.32" r="2.3"/><circle cx="448.53" cy="336.6" r="2.3"/><circle cx="452.97" cy="323.78" r="2.3"/><circle cx="486.15" cy="291.76" r="2.3"/><circle cx="460.48" cy="311.16" r="2.3"/><circle cx="482.29" cy="295.52" r="2.3"/><circle cx="465.65" cy="312.23" r="2.3"/><circle cx="473.77" cy="305.08" r="2.3"/><circle cx="460.52" cy="301.82" r="2.3"/><circle cx="421" cy="347.38" r="2.3"/><circle cx="427.68" cy="339.32" r="2.3"/><circle cx="452" cy="294.01" r="2.3"/><circle cx="494.02" cy="266.28" r="2.3"/><circle cx="492.47" cy="269.37" r="2.3"/><circle cx="430.33" cy="327.1" r="2.3"/><circle cx="435.76" cy="335.16" r="2.3"/><circle cx="431.88" cy="331.8" r="2.3"/><circle cx="438.09" cy="325.76" r="2.3"/><circle cx="440.42" cy="334.49" r="2.3"/><circle cx="434.21" cy="328.45" r="2.3"/><circle cx="443.53" cy="329.79" r="2.3"/><circle cx="502.57" cy="273.4" r="2.3"/><circle cx="504.9" cy="275.41" r="2.3"/></g>
<line x1="387.6" y1="374.1" x2="558.5" y2="226.4" stroke="#000" stroke-width="1.6"/>
<rect x="392.6" y="231.6" width="61.8" height="17.9" rx="2" fill="#fff" fill-opacity="0.85" stroke="#d0d0d0" stroke-width="1"/>
<circle cx="407.7" cy="240.5" r="2.5" fill="#4a8fd3" stroke="#000" stroke-width="0.85"/>
<text class="r" x="425.8" y="243.2" font-size="11.7" textLength="24.3" lengthAdjust="spacingAndGlyphs">SFE</text>
<rect x="387.6" y="226.4" width="170.9" height="147.7" fill="none" stroke="#000" stroke-width="1.0"/>
<path d="M387.6 374.1v-4.0M387.6 226.4v4.0M418.67 374.1v-4.0M418.67 226.4v4.0M449.75 374.1v-4.0M449.75 226.4v4.0M480.82 374.1v-4.0M480.82 226.4v4.0M511.89 374.1v-4.0M511.89 226.4v4.0M542.96 374.1v-4.0M542.96 226.4v4.0M395.37 374.1v-2.3M395.37 226.4v2.3M403.14 374.1v-2.3M403.14 226.4v2.3M410.9 374.1v-2.3M410.9 226.4v2.3M426.44 374.1v-2.3M426.44 226.4v2.3M434.21 374.1v-2.3M434.21 226.4v2.3M441.98 374.1v-2.3M441.98 226.4v2.3M457.51 374.1v-2.3M457.51 226.4v2.3M465.28 374.1v-2.3M465.28 226.4v2.3M473.05 374.1v-2.3M473.05 226.4v2.3M488.59 374.1v-2.3M488.59 226.4v2.3M496.35 374.1v-2.3M496.35 226.4v2.3M504.12 374.1v-2.3M504.12 226.4v2.3M519.66 374.1v-2.3M519.66 226.4v2.3M527.43 374.1v-2.3M527.43 226.4v2.3M535.2 374.1v-2.3M535.2 226.4v2.3M550.73 374.1v-2.3M550.73 226.4v2.3M558.5 374.1v-2.3M558.5 226.4v2.3M387.6 374.1h4.0M558.5 374.1h-4.0M387.6 347.25h4.0M558.5 347.25h-4.0M387.6 320.39h4.0M558.5 320.39h-4.0M387.6 293.54h4.0M558.5 293.54h-4.0M387.6 266.68h4.0M558.5 266.68h-4.0M387.6 239.83h4.0M558.5 239.83h-4.0M387.6 367.39h2.3M558.5 367.39h-2.3M387.6 360.67h2.3M558.5 360.67h-2.3M387.6 353.96h2.3M558.5 353.96h-2.3M387.6 340.53h2.3M558.5 340.53h-2.3M387.6 333.82h2.3M558.5 333.82h-2.3M387.6 327.1h2.3M558.5 327.1h-2.3M387.6 313.68h2.3M558.5 313.68h-2.3M387.6 306.96h2.3M558.5 306.96h-2.3M387.6 300.25h2.3M558.5 300.25h-2.3M387.6 286.82h2.3M558.5 286.82h-2.3M387.6 280.11h2.3M558.5 280.11h-2.3M387.6 273.4h2.3M558.5 273.4h-2.3M387.6 259.97h2.3M558.5 259.97h-2.3M387.6 253.25h2.3M558.5 253.25h-2.3M387.6 246.54h2.3M558.5 246.54h-2.3M387.6 233.11h2.3M558.5 233.11h-2.3M387.6 226.4h2.3M558.5 226.4h-2.3" stroke="#000" stroke-width="0.95" fill="none"/>
<text class="s" x="381" y="378.3" font-size="11.0" text-anchor="end">60</text>
<rect x="361.03" y="374.59" width="6.8" height="0.9" fill="#000"/>
<text class="s" x="396.65" y="387.4" font-size="11.0" text-anchor="end">60</text>
<rect x="376.67" y="383.69" width="6.8" height="0.9" fill="#000"/>
<text class="s" x="381" y="351.45" font-size="11.0" text-anchor="end">20</text>
<rect x="361.02" y="347.73" width="6.8" height="0.9" fill="#000"/>
<text class="s" x="427.72" y="387.4" font-size="11.0" text-anchor="end">20</text>
<rect x="407.74" y="383.69" width="6.8" height="0.9" fill="#000"/>
<text class="s" x="381" y="324.59" font-size="11.0" text-anchor="end">20</text>
<text class="s" x="449.75" y="387.4" font-size="11.0" text-anchor="middle">20</text>
<text class="s" x="381" y="297.74" font-size="11.0" text-anchor="end">60</text>
<text class="s" x="480.82" y="387.4" font-size="11.0" text-anchor="middle">60</text>
<text class="s" x="381" y="270.88" font-size="11.0" text-anchor="end">100</text>
<text class="s" x="511.89" y="387.4" font-size="11.0" text-anchor="middle">100</text>
<text class="s" x="381" y="244.03" font-size="11.0" text-anchor="end">140</text>
<text class="s" x="542.96" y="387.4" font-size="11.0" text-anchor="middle">140</text>
<text class="s" x="362.8" y="217.3" font-size="13.5" textLength="16.5" lengthAdjust="spacingAndGlyphs">(e)</text>
<text class="r" x="439" y="352.7" font-size="11.7" textLength="53" lengthAdjust="spacingAndGlyphs">R<tspan dy="-4.6" font-size="8.2">2</tspan><tspan dy="4.6">=0.841</tspan></text>
<text class="r" x="438.9" y="366.6" font-size="11.7" textLength="107.9" lengthAdjust="spacingAndGlyphs">MAE=5.131 mJ/m<tspan dy="-4.6" font-size="8.2">2</tspan></text>
<text class="r" x="472.2" y="405.9" font-size="11.7" text-anchor="middle" textLength="101.8" lengthAdjust="spacingAndGlyphs">True SFE (mJ/m<tspan dy="-4.6" font-size="8.2">2</tspan><tspan dy="4.6">)</tspan></text>
<text class="r" x="352.8" y="299.4" font-size="11.7" text-anchor="middle" textLength="95.3" lengthAdjust="spacingAndGlyphs" transform="rotate(-90 352.8 299.4)">SFE<tspan font-size="7.5" dy="2" class="i">GNN</tspan><tspan dy="-2"> (mJ/m</tspan><tspan dy="-4.6" font-size="8.2">2</tspan><tspan dy="4.6">)</tspan></text>
</svg></body></html>
